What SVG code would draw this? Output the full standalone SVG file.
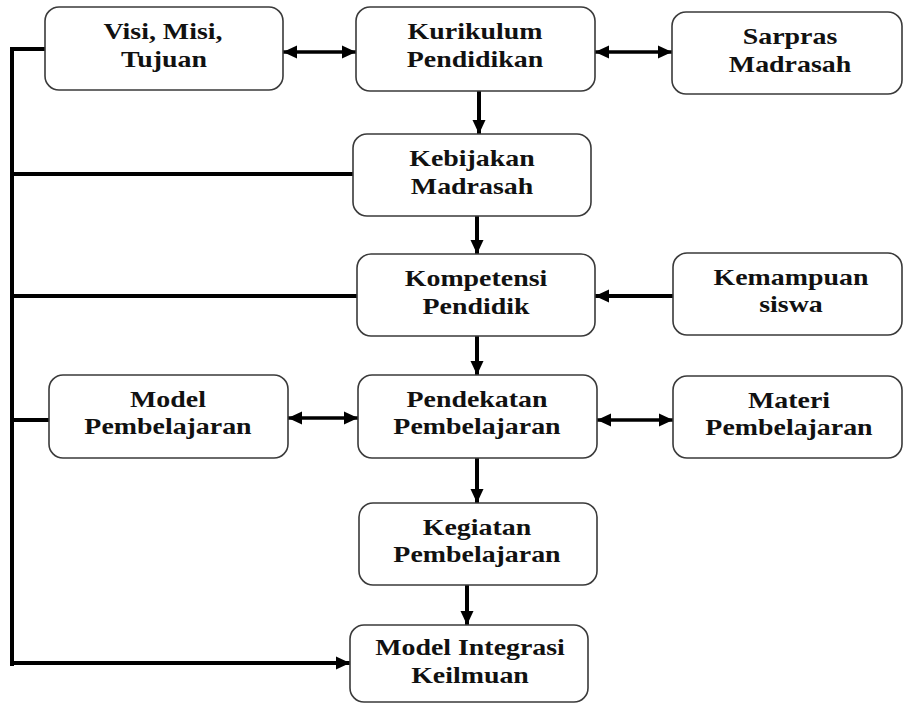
<svg xmlns="http://www.w3.org/2000/svg" width="904" height="704" viewBox="0 0 904 704">
<defs>
<style>
.box{fill:#fff;stroke:#3a3a3a;stroke-width:1.6}
.t{font-family:"Liberation Serif","Times New Roman",serif;font-weight:bold;font-size:22.5px;fill:#111;text-anchor:middle}
.c{fill:none;stroke:#000;stroke-width:4}
.a{fill:none;stroke:#000;stroke-width:3.5}
</style>
<marker id="ah" markerUnits="userSpaceOnUse" markerWidth="14" markerHeight="14" refX="14" refY="7" orient="auto-start-reverse" viewBox="0 0 14 14">
<path d="M0,0.5 L14,7 L0,13.5 z" fill="#000"/>
</marker>
</defs>
<rect width="904" height="704" fill="#fff"/>
<g id="connectors">
<path class="c" d="M45,49 H12 V666" stroke-linejoin="miter"/>
<path class="c" d="M12,174 H353"/>
<path class="c" d="M12,296 H357"/>
<path class="c" d="M12,420 H49"/>
<path class="c" d="M10,663 H350" marker-end="url(#ah)"/>
<path class="a" d="M283,52 H356" marker-start="url(#ah)" marker-end="url(#ah)"/>
<path class="a" d="M595,52 H672" marker-start="url(#ah)" marker-end="url(#ah)"/>
<path class="a" d="M288,418 H358" marker-start="url(#ah)" marker-end="url(#ah)"/>
<path class="a" d="M597,420 H673" marker-start="url(#ah)" marker-end="url(#ah)"/>
<path class="c" d="M673,296 H595" marker-end="url(#ah)"/>
<path class="c" d="M479,91 V134" marker-end="url(#ah)"/>
<path class="c" d="M477,216 V254" marker-end="url(#ah)"/>
<path class="c" d="M477,336 V375" marker-end="url(#ah)"/>
<path class="c" d="M477,458 V503" marker-end="url(#ah)"/>
<path class="c" d="M467,585 V625" marker-end="url(#ah)"/>
</g>
<g id="visi">
<rect class="box" x="45" y="7" width="238" height="83" rx="14"/>
<text class="t" transform="translate(163,39) scale(1.24,1)">Visi, Misi,</text>
<text class="t" transform="translate(164,67) scale(1.24,1)">Tujuan</text>
</g>
<g id="kurikulum">
<rect class="box" x="356" y="7" width="239" height="84" rx="14"/>
<text class="t" transform="translate(475,39) scale(1.24,1)">Kurikulum</text>
<text class="t" transform="translate(475,67) scale(1.24,1)">Pendidikan</text>
</g>
<g id="sarpras">
<rect class="box" x="672" y="12" width="230" height="82" rx="14"/>
<text class="t" transform="translate(790,44) scale(1.24,1)">Sarpras</text>
<text class="t" transform="translate(790,72) scale(1.24,1)">Madrasah</text>
</g>
<g id="kebijakan">
<rect class="box" x="353" y="134" width="238" height="82" rx="14"/>
<text class="t" transform="translate(472,166) scale(1.24,1)">Kebijakan</text>
<text class="t" transform="translate(472,194) scale(1.24,1)">Madrasah</text>
</g>
<g id="kompetensi">
<rect class="box" x="357" y="254" width="238" height="82" rx="14"/>
<text class="t" transform="translate(476,286) scale(1.24,1)">Kompetensi</text>
<text class="t" transform="translate(476,314) scale(1.24,1)">Pendidik</text>
</g>
<g id="kemampuan">
<rect class="box" x="673" y="253" width="229" height="82" rx="14"/>
<text class="t" transform="translate(791,285) scale(1.24,1)">Kemampuan</text>
<text class="t" transform="translate(791,312) scale(1.24,1)">siswa</text>
</g>
<g id="model-pembelajaran">
<rect class="box" x="49" y="375" width="239" height="83" rx="14"/>
<text class="t" transform="translate(168,407) scale(1.24,1)">Model</text>
<text class="t" transform="translate(168,434) scale(1.24,1)">Pembelajaran</text>
</g>
<g id="pendekatan">
<rect class="box" x="358" y="375" width="239" height="83" rx="14"/>
<text class="t" transform="translate(477,407) scale(1.24,1)">Pendekatan</text>
<text class="t" transform="translate(477,434) scale(1.24,1)">Pembelajaran</text>
</g>
<g id="materi">
<rect class="box" x="673" y="376" width="229" height="82" rx="14"/>
<text class="t" transform="translate(789,408) scale(1.24,1)">Materi</text>
<text class="t" transform="translate(789,435) scale(1.24,1)">Pembelajaran</text>
</g>
<g id="kegiatan">
<rect class="box" x="359" y="503" width="238" height="82" rx="14"/>
<text class="t" transform="translate(477,535) scale(1.24,1)">Kegiatan</text>
<text class="t" transform="translate(477,562) scale(1.24,1)">Pembelajaran</text>
</g>
<g id="model-integrasi">
<rect class="box" x="350" y="625" width="238" height="77" rx="14"/>
<text class="t" transform="translate(470,655) scale(1.24,1)">Model Integrasi</text>
<text class="t" transform="translate(470,683) scale(1.24,1)">Keilmuan</text>
</g>
</svg>
